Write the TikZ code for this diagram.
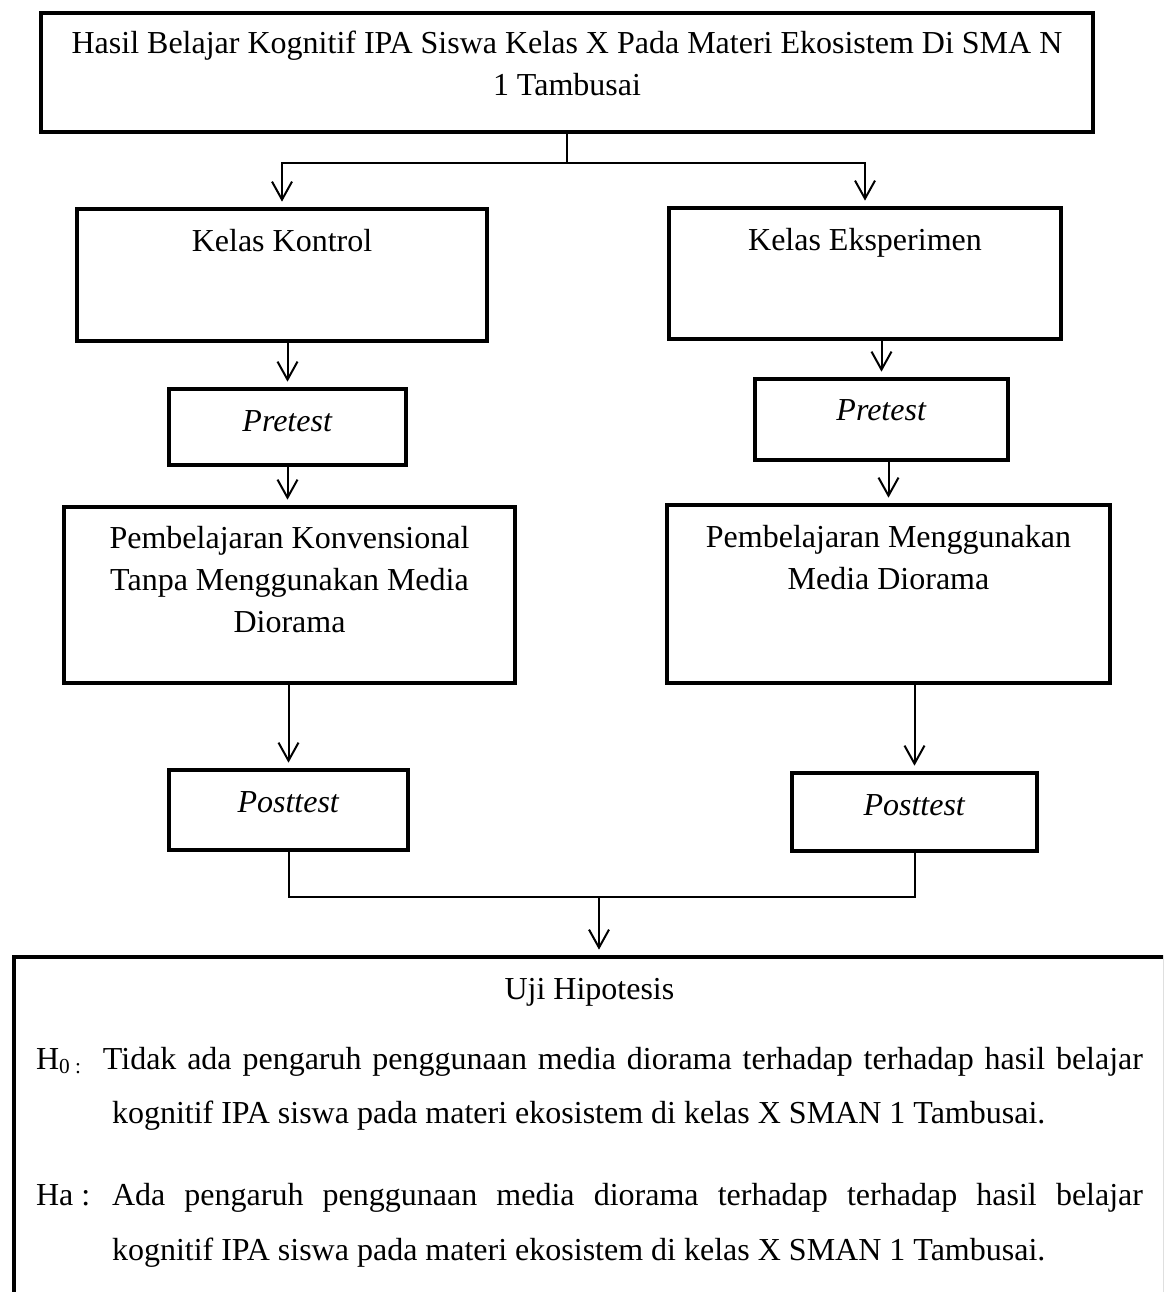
\documentclass[tikz,border=0pt]{standalone}
\usepackage{fontspec}
\setmainfont{Liberation Serif}
\usetikzlibrary{arrows.meta}

\begin{document}
\begin{tikzpicture}[x=0.375pt, y=-0.375pt,
    kotak/.style={draw, line width=1.5pt, anchor=north, align=flush center,
        inner xsep=0pt, inner ysep=0pt, font=\fontsize{12}{15.75}\selectfont},
    garis/.style={line width=0.75pt},
    panah/.style={garis, -{Straight Barb[length=6.75pt, width=7.5pt]}, shorten >=2pt}]

    % Batas gambar
    \clip (0,0) rectangle (1163,1292);

    % Kotak judul
    \node[kotak, minimum width=394.5pt, text width=387pt, text height=15pt, text depth=29.6pt]
        (judul) at (567,11) {Hasil Belajar Kognitif IPA Siswa Kelas X Pada Materi Ekosistem Di SMA N\\1 Tambusai};

    % Kelas (kiri: kontrol, kanan: eksperimen)
    \node[kotak, minimum width=153.75pt, text width=146.25pt, text height=16.1pt, text depth=33.4pt]
        (kontrol) at (282,207) {Kelas Kontrol};
    \node[kotak, minimum width=147pt, text width=139.5pt, text height=15.75pt, text depth=33.4pt]
        (eksperimen) at (865,206) {Kelas Eksperimen};

    % Pretest
    \node[kotak, minimum width=88.9pt, text width=81.4pt, text height=15.75pt, text depth=12.75pt]
        (preL) at (287.5,387) {\textit{Pretest}};
    \node[kotak, minimum width=94.9pt, text width=87.4pt, text height=15.4pt, text depth=15pt]
        (preR) at (881.5,377) {\textit{Pretest}};

    % Pembelajaran
    \node[kotak, minimum width=169.1pt, text width=161.6pt, text height=15.4pt, text depth=50.6pt]
        (pembL) at (289.5,505) {Pembelajaran Konvensional\\Tanpa Menggunakan Media\\Diorama};
    \node[kotak, minimum width=166.1pt, text width=158.6pt, text height=15.75pt, text depth=51pt]
        (pembR) at (888.5,503) {Pembelajaran Menggunakan\\Media Diorama};

    % Posttest
    \node[kotak, minimum width=89.6pt, text width=82.1pt, text height=15.75pt, text depth=14.25pt]
        (postL) at (288.5,768) {\textit{Posttest}};
    \node[kotak, minimum width=91.9pt, text width=84.4pt, text height=15.75pt, text depth=13.5pt]
        (postR) at (914.5,771) {\textit{Posttest}};

    % Uji hipotesis (terpotong di kanan dan bawah)
    \node[kotak, anchor=north west, align=justify, inner xsep=8.25pt, text width=415.1pt,
        text height=16.1pt, text depth=150pt, font=\fontsize{12}{20.6}\selectfont]
        (uji) at (12,955) {{\centering Uji Hipotesis\par}\vspace{5.3pt}
        \noindent\hangindent=28.5pt\hangafter=1
        \makebox[25.1pt][l]{H\textsubscript{0 :}}Tidak ada pengaruh penggunaan media diorama terhadap terhadap hasil belajar\linebreak
        kognitif IPA siswa pada materi ekosistem di kelas X SMAN 1 Tambusai.\par\vspace{10.1pt}
        \noindent\hangindent=28.5pt\hangafter=1
        \makebox[28.5pt][l]{Ha :}Ada pengaruh penggunaan media diorama terhadap terhadap hasil belajar\linebreak
        kognitif IPA siswa pada materi ekosistem di kelas X SMAN 1 Tambusai.\par};

    % Titik cabang dan gabung
    \coordinate (cabang) at (567,163);
    \coordinate (gabung) at (599,897);

    % Panah
    \draw[garis] (judul.south) -- (cabang);
    \draw[panah] (cabang) -| (kontrol.north);
    \draw[panah] (cabang) -| (eksperimen.north);
    \draw[panah] (preL.north |- kontrol.south) -- (preL.north);
    \draw[panah] (preR.north |- eksperimen.south) -- (preR.north);
    \draw[panah] (preL.south) -- (preL.south |- pembL.north);
    \draw[panah] (pembR.north |- preR.south) -- (pembR.north);
    \draw[panah] (postL.north |- pembL.south) -- (postL.north);
    \draw[panah] (postR.north |- pembR.south) -- (postR.north);
    \draw[garis] (postL.south) |- (gabung) -| (postR.south);
    \draw[panah] (gabung) -- (gabung |- uji.north);

\end{tikzpicture}
\end{document}
